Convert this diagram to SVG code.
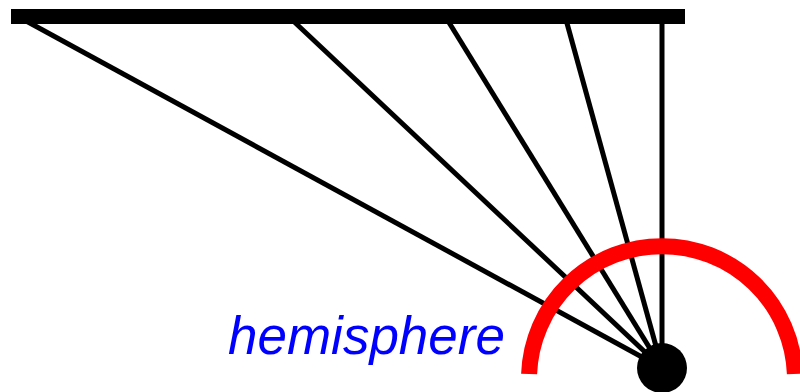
<svg xmlns="http://www.w3.org/2000/svg" width="800" height="392" viewBox="0 0 800 392">
  <style>
    .ray { stroke: #000; stroke-width: 5; fill: none; }
    .label { font-family: "Liberation Sans", Arial, sans-serif; font-style: italic; font-size: 53px; fill: #0000ff; }
  </style>
  <rect width="800" height="392" fill="#fff"/>
  <g id="connectors">
    <line class="ray" x1="662" y1="368" x2="17" y2="16"/>
    <line class="ray" x1="662" y1="368" x2="288" y2="16"/>
    <line class="ray" x1="662" y1="368" x2="445" y2="16"/>
    <line class="ray" x1="662" y1="368" x2="565" y2="16"/>
    <line class="ray" x1="662" y1="368" x2="662" y2="16"/>
  </g>
  <g id="bar">
    <rect x="11" y="9" width="674" height="15" fill="#000"/>
  </g>
  <g id="hemisphere">
    <path d="M 529.1 374 A 133 133 0 0 1 794.9 374" fill="none" stroke="#ff0000" stroke-width="16"/>
  </g>
  <g id="point">
    <circle cx="662" cy="368" r="25" fill="#000"/>
  </g>
  <g id="label">
    <text class="label" x="228" y="354">hemisphere</text>
  </g>
</svg>
